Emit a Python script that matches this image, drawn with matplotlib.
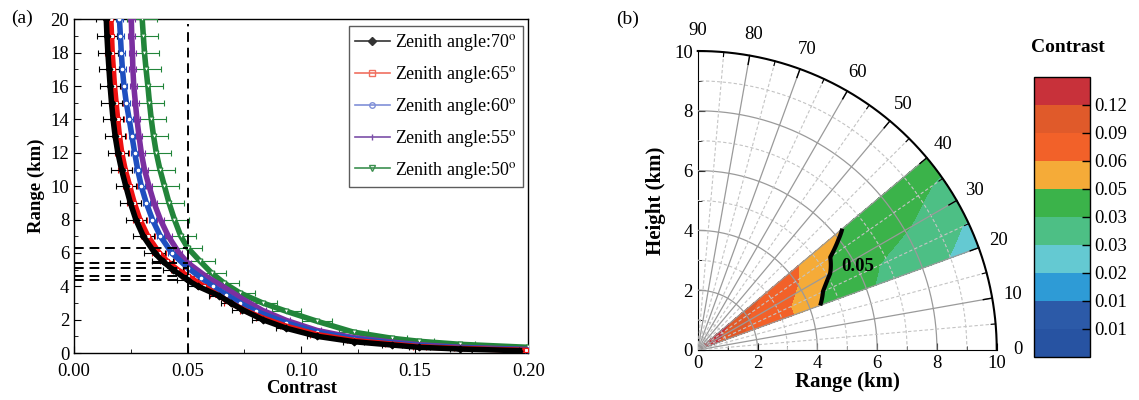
import numpy as np
import matplotlib
matplotlib.use("Agg")
import matplotlib.pyplot as plt
from matplotlib.lines import Line2D

plt.rcParams['font.family'] = ['Liberation Serif', 'DejaVu Serif']
plt.rcParams['mathtext.fontset'] = 'stix'

# ---------------- data ----------------
zenith = [70, 65, 60, 55, 50]

range_70 = [20, 19, 18, 17, 16, 15, 14, 13, 12, 11, 10, 9, 8, 7, 6, 5.5, 5, 4.36, 4, 3.42, 3.0, 2.6, 2.0, 1.48, 1.0, 0.68, 0.48, 0.34, 0.24, 0.14]
contrast_70 = [0.0142, 0.0145, 0.0149, 0.0154, 0.0159, 0.0165, 0.0172, 0.0181, 0.0193, 0.0209, 0.0228, 0.0248, 0.0272, 0.0305, 0.0355,
               0.0390, 0.0435, 0.0500, 0.0545, 0.0640, 0.0690, 0.0740, 0.0830, 0.0935, 0.1070, 0.1230, 0.1400, 0.1520, 0.1700, 0.1960]

range_65 = [20, 19, 18, 17, 16, 15, 14, 13, 12, 11, 10, 9, 8, 7, 6, 5.5, 5, 4.62, 4, 3.5, 3.0, 2.5, 2.1, 1.6, 1.1, 0.75, 0.53, 0.38, 0.27, 0.16]
contrast_65 = [0.0162, 0.0165, 0.0168, 0.0173, 0.0178, 0.0185, 0.0192, 0.0200, 0.0210, 0.0225, 0.0245, 0.0265, 0.0290, 0.0325, 0.0375,
               0.0410, 0.0455, 0.0500, 0.0570, 0.0630, 0.0690, 0.0760, 0.0830, 0.0935, 0.1070, 0.1230, 0.1400, 0.1520, 0.1700, 0.1990]

range_60 = [20, 19, 18, 17, 16, 15, 14, 13, 12, 11, 10, 9, 8, 7, 6, 5.11, 4.5, 4.0, 3.5, 3.0, 2.5, 1.8, 1.25, 0.85, 0.6, 0.44, 0.31, 0.19]
contrast_60 = [0.0200, 0.0204, 0.0208, 0.0213, 0.0220, 0.0230, 0.0243, 0.0255, 0.0267, 0.0280, 0.0296, 0.0318, 0.0345, 0.0380, 0.0430,
               0.0500, 0.0560, 0.0610, 0.0670, 0.0730, 0.0800, 0.0935, 0.1070, 0.1230, 0.1400, 0.1520, 0.1700, 0.2000]

range_55 = [20, 19, 18, 17, 16, 15, 14, 13, 12, 11, 10, 9, 8, 7, 6, 5.41, 4.6, 3.95, 3.25, 2.55, 1.95, 1.35, 0.92, 0.65, 0.49, 0.34, 0.21]
contrast_55 = [0.0252, 0.0254, 0.0257, 0.0259, 0.0263, 0.0270, 0.0277, 0.0286, 0.0296, 0.0310, 0.0330, 0.0352, 0.0380, 0.0415, 0.0462,
               0.0500, 0.0580, 0.0660, 0.0740, 0.0830, 0.0935, 0.1070, 0.1230, 0.1400, 0.1520, 0.1700, 0.2000]

range_50 = [20, 19, 18, 17, 16, 15, 14, 13, 12, 11, 10, 9, 8, 7, 6.31, 5.5, 4.8, 4.2, 3.6, 3.0, 2.5, 1.9, 1.25, 0.88, 0.7, 0.52, 0.34]
contrast_50 = [0.0300, 0.0305, 0.0310, 0.0317, 0.0325, 0.0332, 0.0340, 0.0350, 0.0362, 0.0378, 0.0398, 0.0418, 0.0442, 0.0470, 0.0500,
               0.0555, 0.0605, 0.0660, 0.0730, 0.0830, 0.0935, 0.1070, 0.1230, 0.1400, 0.1520, 0.1700, 0.2000]

contrast_err = [0.0045, 0.003, 0.0015, 0.0015, 0.0065]   # half width of the x error bars
range_at_005 = [4.36, 4.62, 5.11, 5.41, 6.31]             # dashed guide lines

# colour bar of panel (b)
cb_levels = [0.0, 0.008, 0.014, 0.02, 0.025, 0.034, 0.05, 0.064, 0.09, 0.12, 1.0]
cb_labels = ['0.01', '0.01', '0.02', '0.03', '0.03', '0.05', '0.06', '0.09', '0.12']
cb_colors = ['#2753A2', '#2C5AA8', '#2E9BD6', '#64C9D2', '#4DBF85',
             '#3BB34A', '#F5AB38', '#F26129', '#E05A2A', '#C8313A']

series = [(range_70, contrast_70), (range_65, contrast_65), (range_60, contrast_60),
          (range_55, contrast_55), (range_50, contrast_50)]
colors = ['#000000', '#EE1111', '#1F4FC0', '#7B2FA0', '#22853A']
markers = ['D', 's', 'o', '|', 'v']
legend_colors = ['#333333', '#F07060', '#8090D8', '#7B4FA8', '#3C9050']

fig = plt.figure(figsize=(11.39, 4.0), dpi=100)

# ---------------- panel (a) ----------------
ax = fig.add_axes([0.065, 0.1175, 0.399, 0.834])
for i in reversed(range(5)):
    R, C = series[i]
    ax.errorbar(C, R, xerr=contrast_err[i], color=colors[i], lw=4, marker=markers[i], ms=3.5,
                mfc='white' if i in (1, 2, 4) else colors[i], mew=0.8,
                elinewidth=0.8, capsize=2.5, capthick=0.8, zorder=3)

ax.plot([0.05, 0.05], [0, 19.7], color='k', ls=(0, (5, 3)), lw=1.4, zorder=5)
for r in range_at_005:
    ax.plot([0, 0.05], [r, r], color='k', ls=(0, (5, 3)), lw=1.4, zorder=5)

ax.set_xlim(0, 0.2)
ax.set_ylim(0, 20)
ax.set_xticks([0, 0.05, 0.10, 0.15, 0.20])
ax.set_xticklabels(['0.00', '0.05', '0.10', '0.15', '0.20'])
ax.set_xticks(np.arange(0.025, 0.2, 0.05), minor=True)
ax.set_yticks(range(0, 21, 2))
ax.set_yticks(range(1, 20, 2), minor=True)
ax.tick_params(which='both', direction='in', labelsize=13.5, top=False, right=False)
ax.tick_params(axis='x', pad=7)
ax.tick_params(which='major', length=5)
ax.tick_params(which='minor', length=3)
ax.set_xlabel('Contrast', fontsize=13.5, fontweight='bold', labelpad=0)
ax.set_ylabel('Range (km)', fontsize=13.5, fontweight='bold', labelpad=4)
for s in ax.spines.values():
    s.set_linewidth(1.0)

handles = [Line2D([], [], color=legend_colors[i], lw=1.2, marker=markers[i], ms=4,
                  mfc='none' if i in (1, 2, 4) else legend_colors[i])
           for i in range(5)]
labels = ['Zenith angle:%d$^{\\mathrm{o}}$' % z for z in zenith]
leg = ax.legend(handles, labels, loc='upper left', bbox_to_anchor=(0.605, 0.98), fontsize=13,
                frameon=True, fancybox=False, edgecolor='#333333', handlelength=1.9,
                handletextpad=0.3, labelspacing=0.6, borderpad=0.35, borderaxespad=0)
leg.get_frame().set_linewidth(1.0)

fig.text(22 / 1139, 1 - 18 / 400, '(a)', fontsize=14, ha='center', va='center')

# ---------------- panel (b) ----------------
ax2 = fig.add_axes([0.6126, 0.125, 0.2625, 0.7475])
elev = 90 - np.array(zenith)
ang = np.linspace(elev.min(), elev.max(), 161)
rr = np.linspace(0.01, 10, 500)
prof = np.array([np.interp(rr, np.array(R)[::-1], np.array(C)[::-1]) for R, C in series])
field = np.empty((ang.size, rr.size))
for j in range(rr.size):
    field[:, j] = np.interp(ang, elev, prof[:, j])
X = rr[None, :] * np.cos(np.radians(ang))[:, None]
Y = rr[None, :] * np.sin(np.radians(ang))[:, None]
cf = ax2.contourf(X, Y, field, levels=cb_levels, colors=cb_colors, zorder=1)
ax2.contour(X, Y, field, levels=[0.05], colors='k', linewidths=3, zorder=6)
ax2.text(5.35, 2.8, '0.05', fontsize=13.5, fontweight='bold', ha='center', va='center', zorder=7)

t = np.radians(np.linspace(0, 90, 300))
for r in range(1, 10):
    if r % 2 == 0:
        ax2.plot(r * np.cos(t), r * np.sin(t), color='#9a9a9a', lw=0.9, zorder=3)
    else:
        ax2.plot(r * np.cos(t), r * np.sin(t), color='#c4c4c4', lw=0.8, ls=(0, (3, 2)), zorder=3)
for a in range(5, 90, 5):
    ca, sa = np.cos(np.radians(a)), np.sin(np.radians(a))
    if a % 10 == 0:
        ax2.plot([0, 10 * ca], [0, 10 * sa], color='#9a9a9a', lw=0.9, zorder=3)
        ax2.plot([9.7 * ca, 10 * ca], [9.7 * sa, 10 * sa], color='k', lw=1.0, zorder=4)
    else:
        ax2.plot([0, 10 * ca], [0, 10 * sa], color='#c4c4c4', lw=0.8, ls=(0, (3, 2)), zorder=3)
        ax2.plot([9.85 * ca, 10 * ca], [9.85 * sa, 10 * sa], color='k', lw=0.8, zorder=4)
ax2.plot(10 * np.cos(t), 10 * np.sin(t), color='k', lw=1.5, zorder=5, clip_on=False)
for a in range(0, 100, 10):
    ax2.text(10.7 * np.cos(np.radians(a)), 10.7 * np.sin(np.radians(a)), str(a),
             fontsize=13.5, ha='center', va='center', clip_on=False)

ax2.set_xlim(0, 10)
ax2.set_ylim(0, 10)
ax2.set_xticks(range(0, 11, 2))
ax2.set_yticks(range(0, 11, 2))
ax2.set_xticks(range(1, 10, 2), minor=True)
ax2.set_yticks(range(1, 10, 2), minor=True)
ax2.tick_params(which='both', direction='in', labelsize=13.5, top=False, right=False)
ax2.tick_params(which='major', length=5)
ax2.tick_params(which='minor', length=3)
ax2.spines['top'].set_visible(False)
ax2.spines['right'].set_visible(False)
ax2.set_xlabel('Range (km)', fontsize=15, fontweight='bold', labelpad=0)
ax2.set_ylabel('Height (km)', fontsize=15, fontweight='bold', labelpad=6)
ax2.patch.set_alpha(0)

fig.text(628 / 1139, 1 - 19 / 400, '(b)', fontsize=14, ha='center', va='center')

cax = fig.add_axes([0.9078, 0.108, 0.049, 0.70])
cb = fig.colorbar(cf, cax=cax)
cb.set_ticks(cb_levels[1:-1])
cb.set_ticklabels(cb_labels)
cax.tick_params(direction='in', length=6, width=1, labelsize=13.5, pad=3, color='k')
cb.outline.set_linewidth(1.0)
fig.text(1068 / 1139, 1 - 48 / 400, 'Contrast', fontsize=14, fontweight='bold', ha='center', va='center')

fig.savefig('out.png', dpi=100)
